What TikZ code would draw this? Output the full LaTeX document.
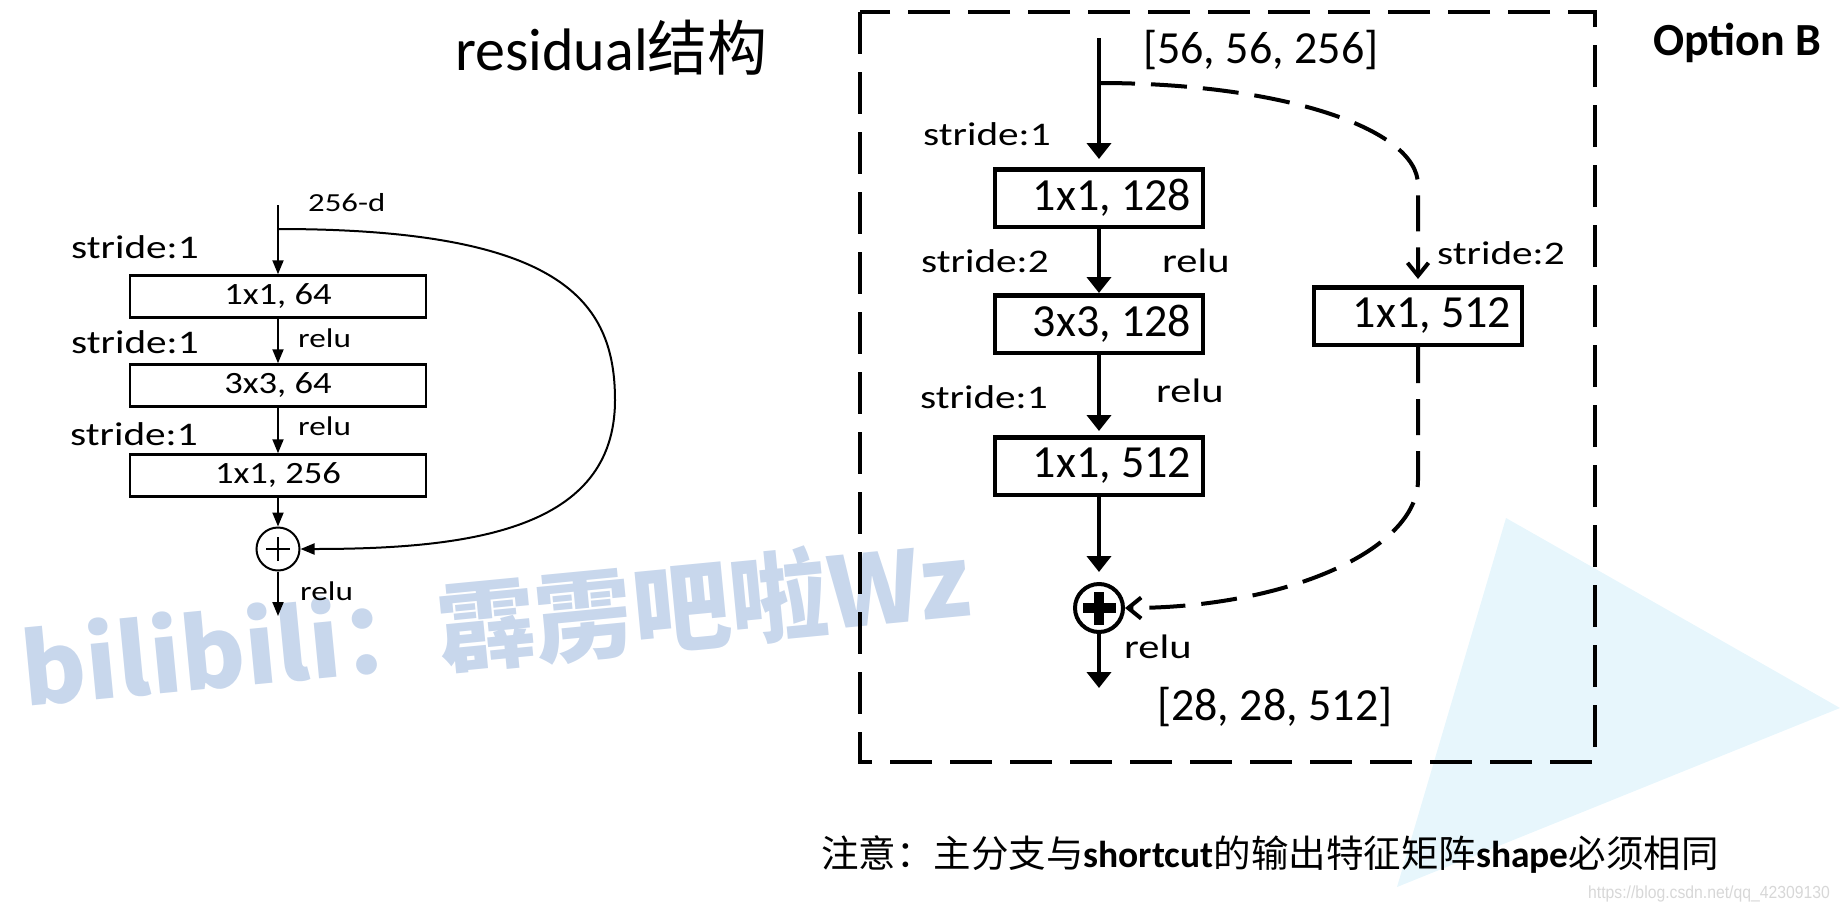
\documentclass[tikz,border=0pt]{standalone}
\usepackage{graphicx}
\usepackage{fontspec}
\setmainfont{Carlito}
\newfontfamily\cjk{Noto Sans CJK SC}
\newfontfamily\lsans{Liberation Sans}
\usetikzlibrary{arrows.meta}
\definecolor{wm}{RGB}{200,215,236}
\definecolor{tri}{RGB}{231,246,252}
\definecolor{csdn}{RGB}{215,215,215}
\newcommand{\fsz}[1]{\fontsize{#1}{#1}\selectfont}
\newcommand{\hsc}[2]{\scalebox{#1}[1]{#2}}
\begin{document}
\begin{tikzpicture}[x=1pt,y=-1pt,
  lbox/.style={draw, line width=2.5pt, minimum width=296pt, minimum height=42pt, inner sep=0pt, font=\fsz{31}},
  rbox/.style={draw, line width=4.5pt, minimum width=208pt, minimum height=57.5pt, inner sep=0pt, font=\fsz{46}},
  larr/.style={line width=2pt, -{Triangle[length=14pt,width=11pt]}},
  rarr/.style={line width=4pt, -{Triangle[length=16pt,width=24pt]}},
  dsh/.style={line width=4pt, dash pattern=on 36pt off 16pt, -{Straight Barb[length=13pt,width=21pt]}},
  lbl/.style={inner sep=0pt, anchor=base west},
  lab/.style={lbl, font=\fsz{33}},
  llab/.style={lbl, font=\fsz{27}},
]
\useasboundingbox (0,0) rectangle (1840,911);
% background decorations
\fill[tri] (1506,518) -- (1840,708) -- (1397,887) -- cycle;
\node[rotate=5.5, anchor=base west, inner sep=0pt, text=wm] (wmk) at (25,707) {\fsz{98}\cjk\bfseries bilibili：霹雳吧啦Wz};

% title
\node[lbl] (title) at (455,70) {\fsz{60}residual{\cjk 结构}};

% ---------------- left diagram ----------------
\node[lbox] (lb1) at (278,296.5) {\hsc{1.18}{1x1, 64}};
\node[lbox] (lb2) at (278,385.5) {\hsc{1.18}{3x3, 64}};
\node[lbox] (lb3) at (278,475.5) {\hsc{1.18}{1x1, 256}};
\node[circle, draw, line width=2pt, minimum size=43pt, inner sep=0pt] (lc) at (278,549) {};
\draw[line width=2pt] ([xshift=-12pt]lc.center) -- ([xshift=12pt]lc.center);
\draw[line width=2pt] ([yshift=-12pt]lc.center) -- ([yshift=12pt]lc.center);
\coordinate (lt) at (278,205);
\coordinate (ls) at (278,229);
\coordinate (lend) at (278,616);
\draw[larr] (lt) -- (lb1);
\draw[larr] (lb1) -- (lb2);
\draw[larr] (lb2) -- (lb3);
\draw[larr] (lb3) -- (lc);
\draw[larr] (lc) -- (lend);
\draw[larr] (ls) .. controls (560,229) and (615,300) .. (615,400) .. controls (615,530) and (470,549) .. (lc.east);
\node[lbl, font=\fsz{26}] (l256) at (308,211) {\hsc{1.26}{256-d}};
\node[lab] (ls1) at (71,258) {\hsc{1.25}{stride:1}};
\node[lab] (ls2) at (71,353) {\hsc{1.25}{stride:1}};
\node[lab] (ls3) at (70,445) {\hsc{1.25}{stride:1}};
\node[llab] (lr1) at (298,347) {\hsc{1.23}{relu}};
\node[llab] (lr2) at (298,435) {\hsc{1.23}{relu}};
\node[llab] (lr3) at (300,600) {\hsc{1.23}{relu}};

% ---------------- right diagram ----------------
\draw[line width=4.5pt, dash pattern=on 42pt off 18pt] (860,12) rectangle (1595,762);
\node[rbox] (rb1) at (1099,198) {\hspace*{26pt}1x1, 128};
\node[rbox] (rb2) at (1099,324) {\hspace*{26pt}3x3, 128};
\node[rbox] (rb3) at (1099,466) {\hspace*{26pt}1x1, 512};
\node[rbox] (rbs) at (1418,316) {\hspace*{28pt}1x1, 512};
\node[circle, draw, line width=4pt, minimum size=48pt, inner sep=0pt] (rc) at (1099,608) {};
\fill ([shift={(-16.5,-5)}]rc.center) rectangle ++(33,10);
\fill ([shift={(-5,-16.5)}]rc.center) rectangle ++(10,33);
\coordinate (rt) at (1099,38);
\coordinate (rs) at (1099,83);
\coordinate (rend) at (1099,688);
\draw[rarr, shorten >=8pt] (rt) -- (rb1);
\draw[rarr] (rb1) -- (rb2);
\draw[rarr, shorten >=4pt] (rb2) -- (rb3);
\draw[rarr, shorten >=10pt] (rb3) -- (rc);
\draw[rarr] (rc) -- (rend);
\draw[dsh, shorten >=6pt] (rs) .. controls (1280,83) and (1418,128) .. (1418,185) -- (rbs.north);
\draw[dsh] (rbs.south) -- (1418,480) .. controls (1418,550) and (1286,608) .. (rc.east);

\node[lbl, font=\fsz{46}] (in) at (1143,63) {[56, 56, 256]};
\node[lbl, font=\fsz{46}] (out) at (1157,720) {[28, 28, 512]};
\node[lab] (rs1) at (923,145) {\hsc{1.25}{stride:1}};
\node[lab] (rs2) at (921,272) {\hsc{1.25}{stride:2}};
\node[lab] (rs3) at (920,408) {\hsc{1.25}{stride:1}};
\node[lab] (rs4) at (1437,264) {\hsc{1.25}{stride:2}};
\node[lbl, font=\fsz{34}] (rr1) at (1162,272) {\hsc{1.25}{relu}};
\node[lbl, font=\fsz{34}] (rr2) at (1156,402) {\hsc{1.25}{relu}};
\node[lbl, font=\fsz{34}] (rr3) at (1124,658) {\hsc{1.25}{relu}};
\node[lbl] (optb) at (1653,55) {\fsz{46}\bfseries Option B};

% note
\node[lbl] (note) at (821,867) {\fsz{37.5}\cjk 注意：主分支与{\normalfont\bfseries shortcut}的输出特征矩阵{\normalfont\bfseries shape}必须相同};
\node[lbl, text=csdn] (url) at (1588,898) {\lsans\fsz{17.5}\hsc{0.9}{https://blog.csdn.net/qq\_42309130}};
\end{tikzpicture}
\end{document}
